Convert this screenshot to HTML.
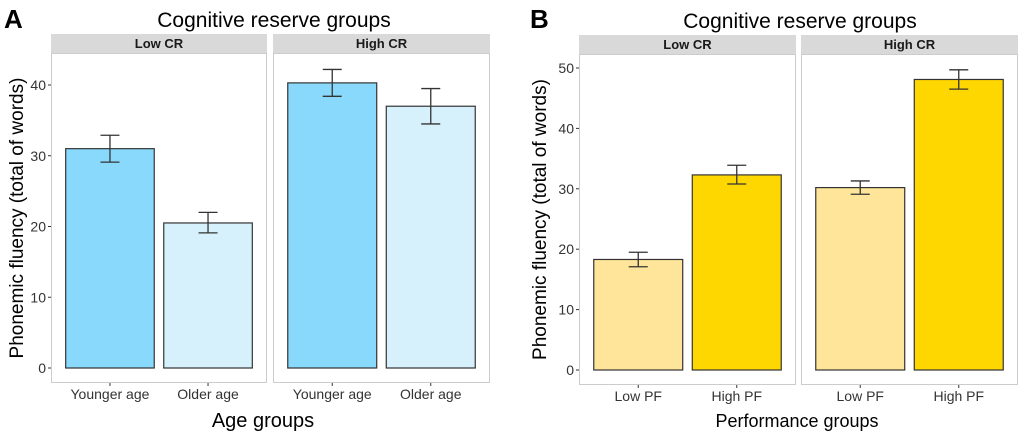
<!DOCTYPE html>
<html><head><meta charset="utf-8">
<style>body{margin:0;background:#fff}svg{display:block;font-family:"Liberation Sans",sans-serif}</style>
</head><body>
<svg id="c" width="1020" height="431">
<text x="4" y="28" font-size="26" font-weight="bold">A</text>
<text x="530" y="28" font-size="26" font-weight="bold">B</text>
</svg>
<script>
const facetsA = ["Low CR","High CR"];
const catsA = ["Younger age","Older age"];
const valsA = [[31,20.5],[40.3,37]];
const loA = [[29.1,19.1],[38.4,34.5]];
const hiA = [[32.9,22],[42.2,39.5]];
const ticksA = [0,10,20,30,40];
const facetsB = ["Low CR","High CR"];
const catsB = ["Low PF","High PF"];
const valsB = [[18.3,32.3],[30.2,48.1]];
const loB = [[17.1,30.8],[29.1,46.5]];
const hiB = [[19.5,33.9],[31.3,49.7]];
const ticksB = [0,10,20,30,40,50];

const svg = document.getElementById('c');
const NS = 'http://www.w3.org/2000/svg';
function mk(tag, attrs, text){const e=document.createElementNS(NS,tag);for(const k in attrs)e.setAttribute(k,attrs[k]);if(text!==undefined)e.textContent=text;svg.appendChild(e);return e;}

function panel(o){
  const y=v=>o.y0-v*o.ppu;
  let t=mk('text',{x:o.titleX,y:o.titleY,'font-size':21,'text-anchor':'middle',fill:'#000'},'Cognitive reserve groups');
  
  
  o.fx.forEach((fx,fi)=>{
    let s=mk('rect',{x:fx[0],y:o.stripTop,width:fx[1]-fx[0],height:o.panelTop-o.stripTop,fill:'#d9d9d9'});
    
    
    let st=mk('text',{x:(fx[0]+fx[1])/2,y:o.stripTop+14,'font-size':13,'font-weight':'bold','text-anchor':'middle',fill:'#1a1a1a'},o.facets[fi]);
    
    
    let p=mk('rect',{x:fx[0]+0.5,y:o.panelTop+0.5,width:fx[1]-fx[0]-1,height:o.panelBot-o.panelTop-1,fill:'#fff',stroke:'#cccccc','stroke-width':1});
    
    
    const w=fx[1]-fx[0], bw=w*0.41;
    o.cats.forEach((c,ci)=>{
      const cx=fx[0]+w*(ci===0?0.273:0.727);
      const v=o.vals[fi][ci];
      let b=mk('rect',{x:cx-bw/2,y:y(v),width:bw,height:y(0)-y(v),fill:o.colors[ci],stroke:'#333','stroke-width':1.2});
      
      
      const lo=y(o.lo[fi][ci]),hi=y(o.hi[fi][ci]);
      let e=mk('path',{d:`M${cx-9.5},${hi}H${cx+9.5}M${cx},${hi}V${lo}M${cx-9.5},${lo}H${cx+9.5}`,stroke:'#333','stroke-width':1.3,fill:'none'});
      
      
      mk('line',{x1:cx,x2:cx,y1:o.panelBot,y2:o.panelBot+3,stroke:'#333'});
      let xl=mk('text',{x:cx,y:o.panelBot+16,'font-size':14,'text-anchor':'middle',fill:'#333'},c);
      
      
    });
  });
  o.ticks.forEach(tv=>{
    mk('line',{x1:o.fx[0][0]-3,x2:o.fx[0][0],y1:y(tv),y2:y(tv),stroke:'#333'});
    let tl=mk('text',{x:o.fx[0][0]-5,y:y(tv)+5,'font-size':14,'text-anchor':'end',fill:'#333'},tv);
    
    
  });
  let xt=mk('text',{x:o.xtX,y:o.xtY,'font-size':o.xtSize,'text-anchor':'middle',fill:'#000'},o.xTitle);
  
  
  const ymid=(o.panelTop+o.panelBot)/2;
  let yt=mk('text',{x:o.ytX,y:ymid,'font-size':19,'text-anchor':'middle',fill:'#000',transform:`rotate(-90 ${o.ytX} ${ymid})`},'Phonemic fluency (total of words)');
  
  
}
panel({id:'a',facets:facetsA,cats:catsA,vals:valsA,lo:loA,hi:hiA,ticks:ticksA,y0:368,ppu:7.075,
  fx:[[51,267],[273,490]],stripTop:34,panelTop:53,panelBot:383,colors:['#89d9fc','#d7f1fc'],
  titleX:274,titleY:27,xTitle:'Age groups',xtX:263,xtY:427,xtSize:20,ytX:23});
panel({id:'b',facets:facetsB,cats:catsB,vals:valsB,lo:loB,hi:hiB,ticks:ticksB,y0:370,ppu:6.04,
  fx:[[579,796],[801,1018]],stripTop:35,panelTop:54,panelBot:385,colors:['#fee599','#ffd700'],
  titleX:800,titleY:28,xTitle:'Performance groups',xtX:797,xtY:427,xtSize:18,ytX:546});
</script>
</body></html>
